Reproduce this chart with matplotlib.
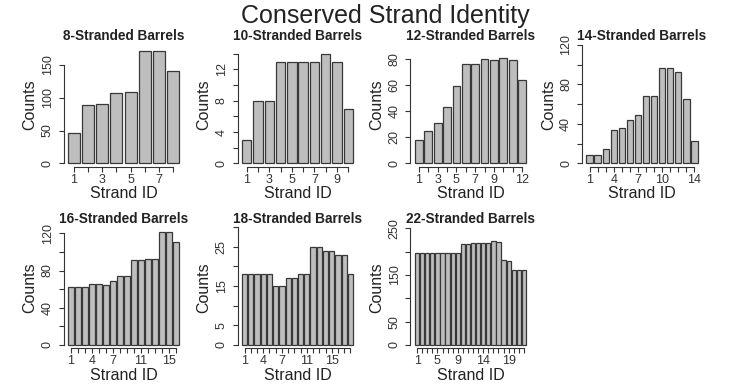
import matplotlib
matplotlib.use("Agg")
import matplotlib.pyplot as plt
import numpy as np

plt.rcParams['font.family'] = ['Liberation Sans', 'DejaVu Sans']

# counts per strand
titles = ["8-Stranded Barrels", "10-Stranded Barrels", "12-Stranded Barrels",
          "14-Stranded Barrels", "16-Stranded Barrels", "18-Stranded Barrels",
          "22-Stranded Barrels"]
s8 = [47, 89, 91, 108, 109, 171, 171, 141]
s10 = [3, 8, 8, 13, 13, 13, 13, 14, 13, 7]
s12 = [18, 25, 31, 43, 59, 76, 76, 80, 79, 81, 79, 64]
s14 = [8, 8, 14, 34, 36, 44, 49, 68, 68, 97, 97, 93, 65, 23]
s16 = [62, 62, 62, 66, 66, 64, 69, 74, 74, 91, 91, 92, 92, 121, 121, 111]
s18 = [18, 18, 18, 18, 18, 15, 15, 17, 17, 18, 18, 25, 25, 24, 24, 23, 23, 18]
s22 = [198, 196, 198, 198, 198, 198, 198, 198, 198, 217, 217, 219, 219, 219,
       219, 222, 220, 182, 180, 161, 161, 161]
series = [s8, s10, s12, s14, s16, s18, s22]

# y ticks, which ones carry a label, and which strand ids are labelled
yticks = [[0, 50, 100, 150], list(range(0, 15, 2)), [0, 20, 40, 60, 80],
          list(range(0, 121, 20)), list(range(0, 121, 20)),
          list(range(0, 31, 5)), list(range(0, 251, 50))]
ylabs = [[0, 50, 100, 150], [0, 4, 8, 12], [0, 20, 40, 60, 80],
         [0, 40, 80, 120], [0, 40, 80, 120], [0, 5, 15, 25], [0, 50, 150, 250]]
xlabs = [[1, 3, 5, 7], [1, 3, 5, 7, 9], [1, 3, 5, 7, 9, 12], [1, 4, 7, 10, 14],
         [1, 4, 7, 11, 15], [1, 4, 7, 11, 15], [1, 5, 9, 14, 19]]
# value reached at the top of each panel's axes box (sets the scale)
ytop = [195.9, 16.4, 98.4, 130.1, 139.6, 33.1, 278.4]

W, H = 733, 392
fig = plt.figure(figsize=(W / 100, H / 100), dpi=100)
fig.patch.set_facecolor("white")

txt = "#222222"
lines = "#333333"

lefts = [63.5, 237.5, 410.5, 582.0]
# top, zero line, axis line, panel title centre, "Counts" centre (all px from top)
rows = [(35.0, 163.3, 166.5, 36.0, 105.0), (215.0, 345.0, 348.0, 219.0, 288.0)]
pw = 120.0

for k, vals in enumerate(series):
    r, c = divmod(k, 4)
    top, zero, bot, ttl, cy = rows[r]
    h = bot - top
    ax = fig.add_axes([lefts[c] / W, 1 - bot / H, pw / W, h / H])
    n = len(vals)
    x = 0.7 + 1.2 * np.arange(n)
    ax.bar(x, vals, width=1.0, color="#bebebe", edgecolor="#383838",
           linewidth=0.9)
    D = n * 1.2 - 0.2
    ax.set_xlim(0.2 - 0.04 * D, n * 1.2 + 0.04 * D)
    ax.set_ylim(-ytop[k] * (bot - zero) / (zero - top), ytop[k])

    ax.set_xticks(x)
    ax.set_xticklabels([str(i + 1) if (i + 1) in xlabs[k] else "" for i in range(n)])
    ax.set_yticks(yticks[k])
    ax.set_yticklabels([str(t) if t in ylabs[k] else "" for t in yticks[k]])

    for s in ["top", "right"]:
        ax.spines[s].set_visible(False)
    ax.spines["left"].set_bounds(yticks[k][0], yticks[k][-1])
    ax.spines["bottom"].set_bounds(x[0], x[-1])
    for s in ["left", "bottom"]:
        ax.spines[s].set_color(lines)
        ax.spines[s].set_linewidth(0.8)
    ax.patch.set_visible(False)

    ax.tick_params(axis="both", direction="out", length=3.6, width=0.8,
                   color=lines, labelcolor="#333333", labelsize=9)
    ax.tick_params(axis="x", pad=1.5)
    ax.tick_params(axis="y", pad=3.5, labelrotation=90)
    for lab in ax.get_yticklabels():
        lab.set_va("center")

    ax.set_xlabel("Strand ID", fontsize=11.5, color=txt)
    ax.xaxis.set_label_coords(0.5, -27.5 / h)
    ax.xaxis.label.set_va("center")
    ax.set_ylabel("Counts", fontsize=11.5, color=txt)
    ax.yaxis.set_label_coords(-33.5 / pw, (bot - cy) / h)
    ax.yaxis.label.set_va("center")

    ax.text(0.5, (bot - ttl) / h, titles[k], transform=ax.transAxes, ha="center",
            va="center", fontsize=9.8, fontweight="bold", color=txt)

fig.text(385 / W, 1 - 16 / H, "Conserved Strand Identity", ha="center",
         va="center", fontsize=18, color=txt)

fig.savefig("out.png", dpi=100, facecolor="white")
